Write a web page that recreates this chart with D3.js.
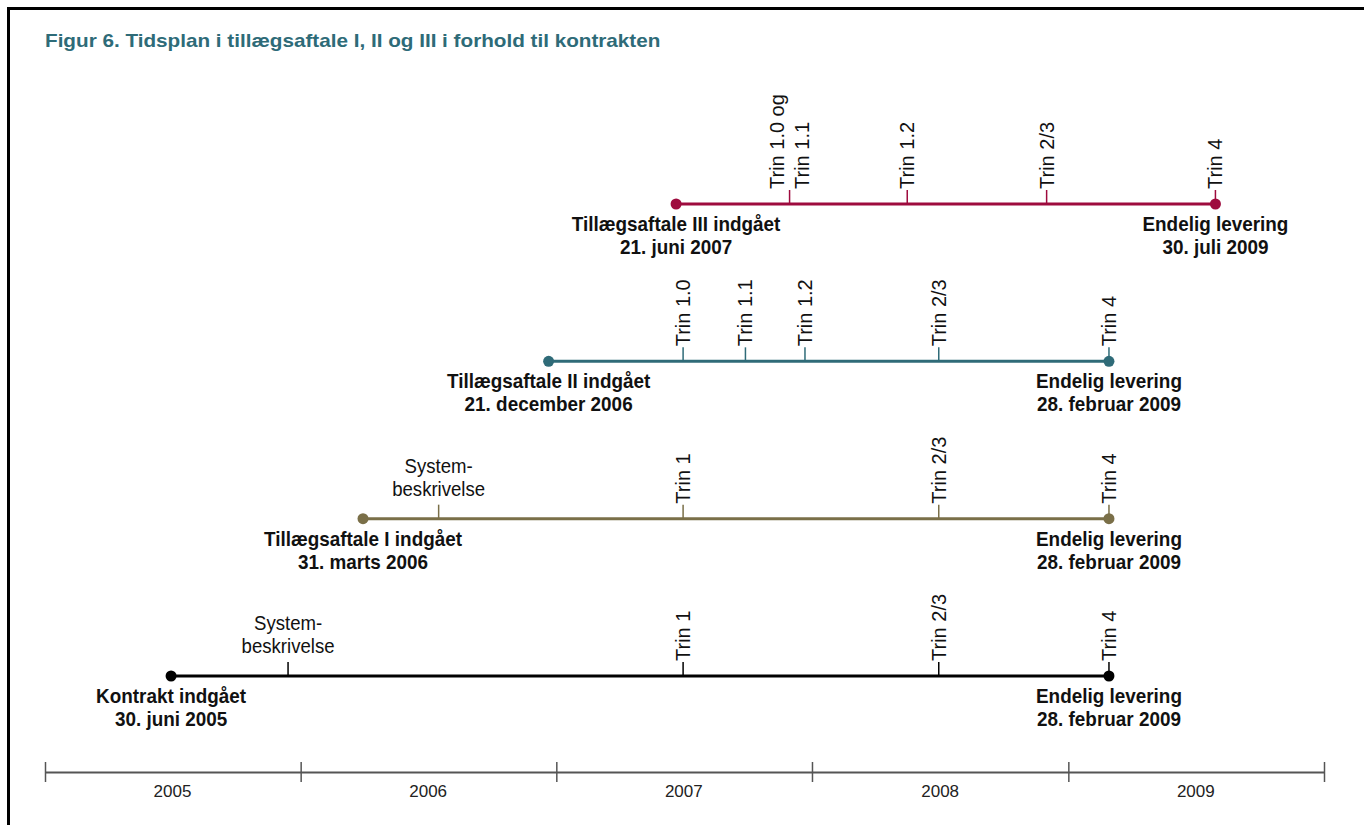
<!DOCTYPE html>
<html>
<head>
<meta charset="utf-8">
<script src="https://cdn.jsdelivr.net/npm/d3@7"></script>
<style>
  body { margin: 0; background: #fff; }
  text { font-family: "Liberation Sans", Arial, sans-serif; }
</style>
</head>
<body>
<div id="chart"></div>
<script>
// rows from bottom to top
const agreements = ["Kontrakt indgået", "Tillægsaftale I indgået", "Tillægsaftale II indgået", "Tillægsaftale III indgået"];
const startDates = ["2005-06-30", "2006-03-31", "2006-12-21", "2007-06-21"];
const startLabels = ["30. juni 2005", "31. marts 2006", "21. december 2006", "21. juni 2007"];
const endDates = ["2009-02-28", "2009-02-28", "2009-02-28", "2009-07-30"];
const endLabels = ["28. februar 2009", "28. februar 2009", "28. februar 2009", "30. juli 2009"];
const rowColors = ["#000000", "#7a6f48", "#2f6b78", "#9e0b3e"];

// milestones per row: [date, label] ("|" splits lines)
const milestones = [
    [["2005-12-14", "System-|beskrivelse"], ["2007-07-01", "Trin 1"], ["2008-06-30", "Trin 2/3"], ["2009-02-28", "Trin 4"]],
    [["2006-07-17", "System-|beskrivelse"], ["2007-07-01", "Trin 1"], ["2008-06-30", "Trin 2/3"], ["2009-02-28", "Trin 4"]],
    [["2007-07-01", "Trin 1.0"], ["2007-09-28", "Trin 1.1"], ["2007-12-22", "Trin 1.2"], ["2008-06-30", "Trin 2/3"], ["2009-02-28", "Trin 4"]],
    [["2007-11-30", "Trin 1.0 og|Trin 1.1"], ["2008-05-16", "Trin 1.2"], ["2008-12-01", "Trin 2/3"], ["2009-07-30", "Trin 4"]]
];

const years = [2005, 2006, 2007, 2008, 2009];
const title = "Figur 6. Tidsplan i tillægsaftale I, II og III i forhold til kontrakten";

const W = 1364, H = 825;
const parse = d3.timeParse("%Y-%m-%d");

const svg = d3.select("#chart").append("svg")
    .attr("width", W).attr("height", H);

// frame
svg.append("rect")
   .attr("x", 8.5).attr("y", 8.5)
   .attr("width", 1420).attr("height", 900)
   .attr("fill", "none").attr("stroke", "#000").attr("stroke-width", 3);

svg.append("text")
   .attr("transform", "translate(45,47) scale(1.15,1)")
   .attr("fill", "#2e6b78")
   .attr("font-weight", "bold")
   .attr("font-size", 18)
   .text(title);

const x = d3.scaleTime()
            .domain([new Date(years[0], 0, 1), new Date(years[years.length - 1] + 1, 0, 1)])
            .range([45, 1324]);
const y = d3.scalePoint()
            .domain(agreements)
            .range([676, 204]);

// year axis
const axisY = 772;
const axis = svg.append("g")
    .attr("transform", `translate(0,${axisY})`)
    .call(d3.axisBottom(x).ticks(d3.timeYear.every(1)).tickFormat("").tickSizeOuter(0).tickSizeInner(10));
axis.select(".domain").attr("stroke", "#555").attr("stroke-width", 2);
axis.selectAll(".tick line").attr("y1", -10).attr("y2", 10).attr("stroke", "#555").attr("stroke-width", 1.5);

svg.append("g").selectAll("text")
   .data(years)
   .enter().append("text")
   .attr("x", d => x(new Date(d, 6, 2)))
   .attr("y", 797)
   .attr("text-anchor", "middle")
   .attr("font-size", 17)
   .attr("fill", "#222")
   .text(d => d);

function boldLabel(g, cx, cy, lines) {
    lines.forEach((t, i) => {
        g.append("text")
         .attr("transform", `translate(${cx},${cy + i * 23}) scale(0.9,1)`)
         .attr("text-anchor", "middle")
         .attr("font-weight", "bold")
         .attr("font-size", 21)
         .attr("fill", "#111")
         .text(t);
    });
}

agreements.forEach((name, i) => {
    const g = svg.append("g");
    const yy = y(name);
    const col = rowColors[i];
    const x0 = x(parse(startDates[i])), x1 = x(parse(endDates[i]));

    g.append("line")
     .attr("x1", x0).attr("x2", x1).attr("y1", yy).attr("y2", yy)
     .attr("stroke", col).attr("stroke-width", 3);

    // milestones
    milestones[i].forEach(([d, label]) => {
        const mx = x(parse(d));
        g.append("line")
         .attr("x1", mx).attr("x2", mx).attr("y1", yy).attr("y2", yy - 14)
         .attr("stroke", col).attr("stroke-width", 1.5);
        const lines = label.split("|");
        if (label.startsWith("System")) {
            lines.forEach((t, k) => {
                g.append("text")
                 .attr("transform", `translate(${mx},${yy - 46 + k * 23}) scale(0.93,1)`)
                 .attr("text-anchor", "middle")
                 .attr("font-size", 20)
                 .attr("fill", "#111")
                 .text(t);
            });
        } else {
            const n = lines.length;
            lines.forEach((t, k) => {
                const off = (k - (n - 1) / 2) * 25;
                g.append("text")
                 .attr("transform", `translate(${mx + off},${yy - 15}) rotate(-90)`)
                 .attr("dominant-baseline", "central")
                 .attr("font-size", 20)
                 .attr("fill", "#111")
                 .text(t);
            });
        }
    });

    g.selectAll("circle")
     .data([x0, x1])
     .enter().append("circle")
     .attr("cx", d => d).attr("cy", yy).attr("r", 5.5)
     .attr("fill", col);

    boldLabel(g, x0, yy + 27, [name, startLabels[i]]);
    boldLabel(g, x1, yy + 27, ["Endelig levering", endLabels[i]]);
});
</script>
</body>
</html>
